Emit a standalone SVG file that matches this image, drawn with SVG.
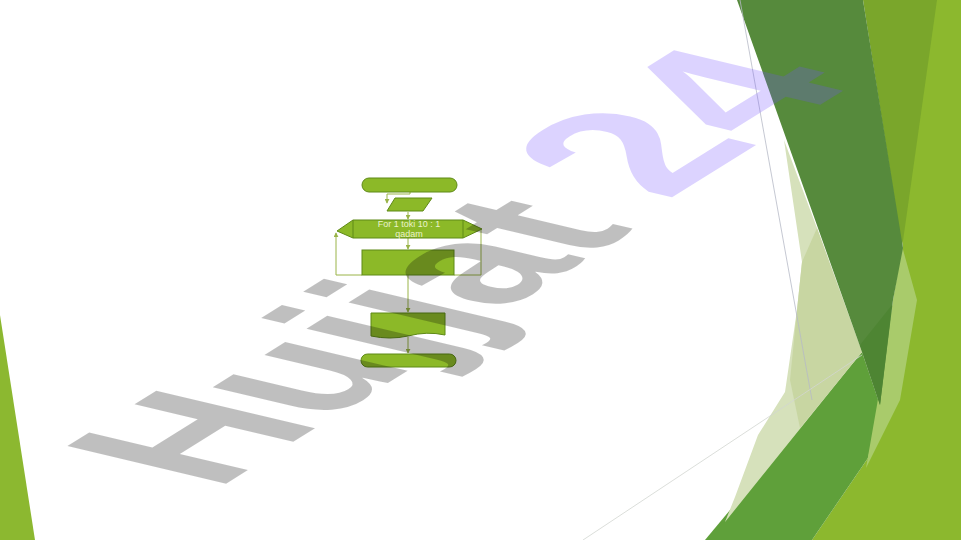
<svg xmlns="http://www.w3.org/2000/svg" width="961" height="540" viewBox="0 0 961 540">
<style>
.sh{fill:#8cb928;stroke:#5f8a17;stroke-width:1}
.cn{fill:none;stroke:#9ab449;stroke-width:1}
.tx{font-family:"Liberation Sans",Arial,sans-serif;font-size:9px;fill:#eaf2cc;text-anchor:middle}
.wm{font-family:"Liberation Sans",Arial,sans-serif;font-weight:bold;font-size:178px}
.gr{fill:#000000;fill-opacity:0.25}
.pu{fill:#7450ff;fill-opacity:0.25}
</style>
<defs>
<marker id="ar" viewBox="0 0 6 6" refX="5" refY="3" markerWidth="5" markerHeight="5" orient="auto">
<path d="M0,0 L6,3 L0,6 Z" fill="#9ab449"/>
</marker>
</defs>
<rect width="961" height="540" fill="#ffffff"/>
<g id="decor">
<polygon points="0,315 35,540 0,540" fill="#8cb830"/>
<polygon points="900,0 961,0 961,540 812,540 868,458 903,248" fill="#8cb82e"/>
<polygon points="863,0 937,0 902,248" fill="#7aa62b"/>
<polygon points="705,540 862,352 880,405 868,458 812,540" fill="#5fa03a"/>
<polygon points="784,140 817,228 862,352 725,522 735,497 758,435 785,392 797,310 802,262" fill="#d6e1bb"/>
<polygon points="817,228 862,352 800,428 790,380 797,310 802,262" fill="#c8d6a2"/>
<polygon points="902,246 917,300 900,400 866,468 877,405 893,300" fill="#a9cb6b"/>
<polygon points="737,0 863,0 903,248 893,300 880,405 862,352" fill="#568a3c"/>
<polygon points="860,345 892,305 880,405" fill="#4e8533"/>
<line x1="740" y1="0" x2="812" y2="400" stroke="#b6bac6" stroke-width="0.8"/>
<line x1="583" y1="540" x2="862" y2="355" stroke="#d2d6d0" stroke-width="0.8"/>
</g>
<g id="connectors">
<path class="cn" d="M410,192 V194 H387 V203" marker-end="url(#ar)"/>
<path class="cn" d="M408,212 V219" marker-end="url(#ar)"/>
<path class="cn" d="M408,238 V249" marker-end="url(#ar)"/>
<path class="cn" d="M408,275 V312" marker-end="url(#ar)"/>
<path class="cn" d="M408,337 V353" marker-end="url(#ar)"/>
<path class="cn" d="M362,275 H336 V233" marker-end="url(#ar)"/>
<path class="cn" d="M454,275 H481 V230"/>
</g>
<g id="start"><rect class="sh" x="362" y="178" width="95" height="14" rx="7"/></g>
<g id="input"><polygon class="sh" points="395,198 432,198 423,211 387,211"/></g>
<g id="loop">
<polygon class="sh" points="337,231 353,220 463,220 482,229 463,238 353,238"/>
<line x1="353" y1="220" x2="353" y2="238" stroke="#5f8a17" stroke-width="1"/>
<line x1="463" y1="220" x2="463" y2="238" stroke="#5f8a17" stroke-width="1"/>
<text class="tx" x="409" y="227">For 1 toki 10 : 1</text>
<text class="tx" x="409" y="237">qadam</text>
</g>
<g id="process"><rect class="sh" x="362" y="250" width="92" height="25"/></g>
<g id="output"><path class="sh" d="M371,313 H445 V335 Q427,331 408,336 Q390,340 371,336 Z"/></g>
<g id="end"><rect class="sh" x="361" y="354" width="95" height="13" rx="6.5"/></g>
<g id="watermark">
<text class="wm gr" transform="matrix(0.85,-0.53,1.297,0.308,216,490)">Hujjat</text>
<text class="wm pu" transform="matrix(0.98,-0.61,1.38,0.33,666,201)">24</text>
</g>
</svg>
